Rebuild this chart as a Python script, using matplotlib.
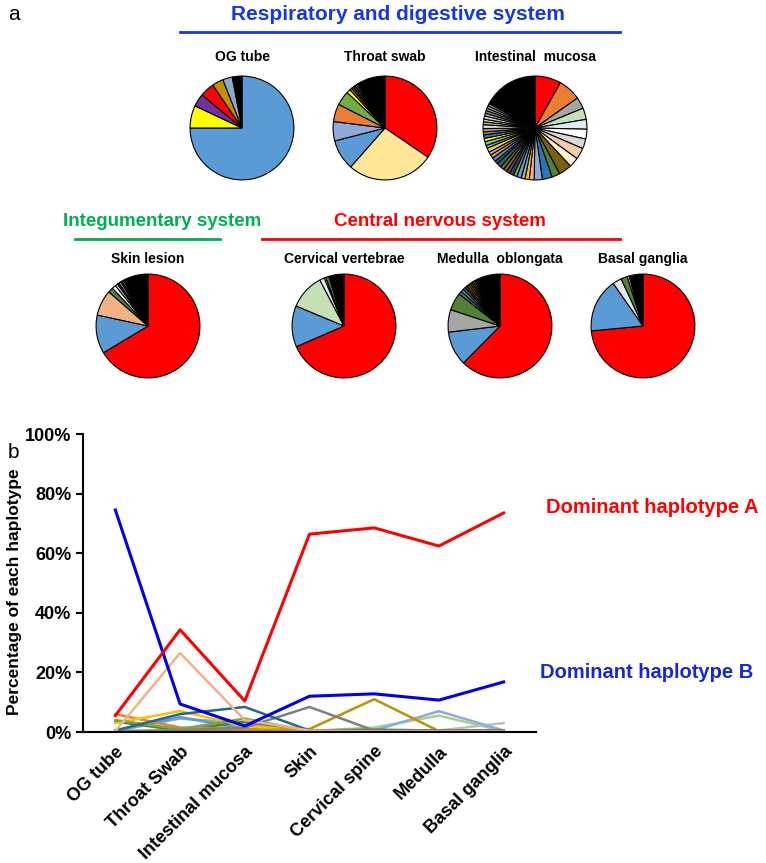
import matplotlib
matplotlib.use('Agg')
import matplotlib.pyplot as plt
from matplotlib.lines import Line2D
from matplotlib.ticker import FuncFormatter

plt.rcParams['font.family'] = ['Liberation Sans', 'DejaVu Sans']

W, H = 766, 863

# ── panel a: haplotype composition per tissue (clockwise from 12 o'clock) ──
og_vals = [75, 7, 4, 4.5, 3.5, 3, 3]
og_cols = ['#5B9BD5', '#FFFF00', '#7030A0', '#FF0000', '#BF9000', '#8EA9C8', '#000000']

throat_vals = [34.5, 27, 9.5, 6, 5.5, 4.5, 1.2, 0.8, 0.6, 0.6, 0.5, 0.5, 8.8]
throat_cols = ['#FF0000', '#FFE699', '#5B9BD5', '#8FAADC', '#ED7D31', '#70AD47',
               '#FFFF00', '#C55A11', '#548235', '#7F6000', '#A9D18E', '#BF9000', '#000000']

intest_vals = [8, 7, 3.5, 3.5, 3, 3, 3, 3.5, 3, 4, 2.5, 3, 2.5,
               1.5, 1.3, 1.2, 1.4, 1.1, 1.3, 1.0, 1.2, 1.1, 1.4, 1.0, 1.2,
               1.1, 1.0, 1.3, 0.9, 1.2, 1.0, 1.1, 0.9, 1.0, 1.2, 0.9, 0.8,
               1.0, 0.8, 0.9, 0.7, 0.8, 0.7, 17]
intest_cols = ['#FF0000', '#ED7D31', '#A5A5A5', '#C5E0B4', '#DEEBF7', '#FFFFFF',
               '#D9D9D9', '#F8CBAD', '#FFF2CC', '#7F6000', '#548235', '#2E75B6',
               '#8FAADC', '#F4B183', '#FFC000', '#A9A9A9', '#5B9BD5', '#70AD47',
               '#264478', '#9E480E', '#636363', '#997300', '#255E91', '#43682B',
               '#698ED0', '#F1975A', '#B7B7B7', '#FFCD33', '#7CAFDD', '#8CC168',
               '#FFFF00', '#4472C4', '#ED7D31', '#A5A5A5', '#D9D9D9', '#C9B27C',
               '#FFE699', '#BDD7EE', '#E2CFA0', '#7F7F7F', '#D6C38F', '#8EA9C8',
               '#C9B27C', '#000000']

skin_vals = [66.4, 12, 8, 1.6, 1.2, 0.8, 0.6, 0.6, 0.5, 0.5, 7.8]
skin_cols = ['#FF0000', '#5B9BD5', '#F4B183', '#548235', '#FFFFFF', '#D9D9D9',
             '#1F3864', '#FFFFFF', '#843C0C', '#8EA9C8', '#000000']

cerv_vals = [68.5, 12.8, 11, 1.5, 0.5, 1, 4.7]
cerv_cols = ['#FF0000', '#5B9BD5', '#C5E0B4', '#DEEBF7', '#FFFFFF', '#548235', '#000000']

med_vals = [62.4, 10.7, 7, 5.5, 1, 0.9, 0.8, 0.7, 0.7, 0.6, 0.6, 0.5, 0.5, 8.1]
med_cols = ['#FF0000', '#5B9BD5', '#A6A6A6', '#548235', '#4472C4', '#70AD47',
            '#2E75B6', '#843C0C', '#C55A11', '#BF9000', '#7F6000', '#8EA9C8',
            '#A9D18E', '#000000']

basal_vals = [73.5, 16.8, 2.8, 2, 0.6, 0.4, 3.9]
basal_cols = ['#FF0000', '#5B9BD5', '#E7E6E6', '#548235', '#FFFFFF', '#A9D18E', '#000000']

pies = [
    ('OG tube', og_vals, og_cols, 242, 128, 57),
    ('Throat swab', throat_vals, throat_cols, 385, 128, 57),
    ('Intestinal  mucosa', intest_vals, intest_cols, 535, 128, 57),
    ('Skin lesion', skin_vals, skin_cols, 148, 326, 259),
    ('Cervical vertebrae', cerv_vals, cerv_cols, 344, 326, 259),
    ('Medulla  oblongata', med_vals, med_cols, 500, 326, 259),
    ('Basal ganglia', basal_vals, basal_cols, 643, 326, 259),
]

# ── panel b: percentage of each haplotype ──
categories = ['OG tube', 'Throat Swab', 'Intestinal mucosa', 'Skin',
              'Cervical spine', 'Medulla', 'Basal ganglia']
hap_a = [5.5, 34.3, 10.4, 66.4, 68.5, 62.4, 73.5]
hap_b = [74.5, 9.4, 2.0, 12.0, 12.8, 10.7, 16.8]
hap_peach = [0.3, 26.5, 4.0, 0.5, 0.2, 0.2, 0.2]
hap_teal = [0.5, 6.0, 8.4, 0.5, 0.3, 0.3, 0.3]
hap_gray = [0.3, 0.5, 1.5, 8.4, 0.5, 0.5, 0.5]
hap_gold = [0.3, 0.5, 0.5, 1.0, 11.0, 0.3, 0.3]
hap_yellow = [3.0, 7.0, 2.0, 0.3, 0.2, 0.2, 0.2]
hap_orange = [6.0, 1.5, 1.0, 0.3, 0.2, 0.2, 0.2]
hap_green = [4.0, 1.0, 4.5, 0.3, 0.3, 0.5, 0.3]
hap_lightblue = [0.3, 4.5, 3.0, 0.3, 0.5, 7.0, 0.5]
hap_lightgreen = [0.3, 0.3, 2.5, 0.3, 1.5, 5.5, 0.3]
hap_midblue = [0.5, 5.0, 1.0, 0.3, 0.2, 0.2, 0.2]
hap_lightgray = [0.2, 0.2, 0.5, 0.5, 0.5, 0.5, 3.0]
hap_darkgreen = [3.5, 0.5, 3.5, 0.5, 0.8, 0.5, 0.5]

minor = [
    (hap_lightgray, '#BFBFBF'), (hap_lightgreen, '#A9D18E'), (hap_lightblue, '#8FAADC'),
    (hap_midblue, '#5B9BD5'), (hap_darkgreen, '#548235'), (hap_orange, '#ED7D31'),
    (hap_yellow, '#FFC000'), (hap_green, '#70AD47'), (hap_gold, '#BF9000'),
    (hap_gray, '#7F7F7F'), (hap_teal, '#23668F'), (hap_peach, '#F4B183'),
]

fig = plt.figure(figsize=(W / 100, H / 100), dpi=100)


def fx(x):
    return x / W


def fy(y):
    return 1 - y / H


def hline(x0, x1, y, color):
    fig.add_artist(Line2D([fx(x0), fx(x1)], [fy(y), fy(y)], color=color, lw=2,
                          transform=fig.transFigure))


# group headers
fig.text(fx(8), fy(14), 'a', fontsize=15, va='center', ha='left')
fig.text(fx(398), fy(15), 'Respiratory and digestive system', color='#1436E6',
         fontsize=15, fontweight='bold', ha='center', va='center')
hline(180, 620, 32, '#1436E6')
fig.text(fx(162), fy(222), 'Integumentary system', color='#00B050',
         fontsize=13.5, fontweight='bold', ha='center', va='center')
hline(75, 220, 239, '#00B050')
fig.text(fx(440), fy(222), 'Central nervous system', color='#FF0000',
         fontsize=13.5, fontweight='bold', ha='center', va='center')
hline(262, 620, 239, '#FF0000')

R = 52
for title, vals, cols, cx, cy, ty in pies:
    ax = fig.add_axes([fx(cx - R - 2), fy(cy + R + 2), (2 * R + 4) / W, (2 * R + 4) / H])
    ax.pie(vals, colors=cols, startangle=90, counterclock=False,
           wedgeprops={'edgecolor': 'black', 'linewidth': 0.8})
    ax.set_xlim(-1.04, 1.04)
    ax.set_ylim(-1.04, 1.04)
    ax.set_aspect('equal')
    ax.axis('off')
    fig.text(fx(cx), fy(ty), title, fontsize=10, fontweight='bold',
             ha='center', va='center')

# line chart
fig.text(fx(8), fy(452), 'b', fontsize=15, va='center', ha='left')
ax = fig.add_axes([fx(83), fy(732), (536 - 83) / W, (732 - 434) / H])
x = list(range(len(categories)))
for vals, col in minor:
    ax.plot(x, vals, color=col, lw=1.8, clip_on=False)
ax.plot(x, hap_b, color='#0000EE', lw=2.2, clip_on=False)
ax.plot(x, hap_a, color='#FF0000', lw=2.2, clip_on=False)

ax.set_xlim(-0.5, 6.5)
ax.set_ylim(0, 100)
ax.set_yticks(range(0, 101, 20))
ax.yaxis.set_major_formatter(FuncFormatter(lambda v, p: f'{v:.0f}%'))
ax.set_xticks(x)
ax.set_xticklabels(categories, rotation=45, ha='right', rotation_mode='anchor')
ax.tick_params(axis='x', length=0, pad=8)
ax.tick_params(axis='y', length=5, width=1.5, direction='out')
for lab in ax.get_xticklabels() + ax.get_yticklabels():
    lab.set_fontsize(13)
    lab.set_fontweight('bold')
for side in ('top', 'right'):
    ax.spines[side].set_visible(False)
for side in ('left', 'bottom'):
    ax.spines[side].set_linewidth(1.5)

fig.text(fx(15), fy(592), 'Percentage of each haplotype', fontsize=12.5,
         fontweight='bold', rotation=90, ha='center', va='center')

fig.text(fx(546), fy(507), 'Dominant haplotype A', color='#FF0000', fontsize=14.5,
         fontweight='bold', ha='left', va='center')
fig.text(fx(540), fy(673), 'Dominant haplotype B', color='#1428D8', fontsize=14.5,
         fontweight='bold', ha='left', va='center')

fig.savefig('out.png', dpi=100)
